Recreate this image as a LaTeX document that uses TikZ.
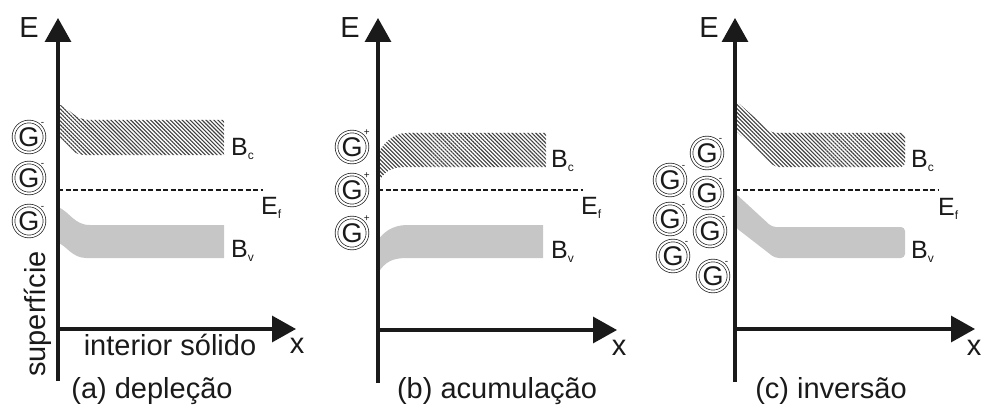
\documentclass[tikz,border=0pt]{standalone}
\usepackage{fontspec}
\setmainfont{Liberation Sans}
\usetikzlibrary{arrows.meta,patterns.meta}
\definecolor{ink}{HTML}{1A1A1A}
\definecolor{bandgray}{HTML}{C6C6C6}
\definecolor{hatchcol}{HTML}{404040}
\begin{document}
\begin{tikzpicture}[x=1pt,y=-1pt,
  axis/.style={line width=3.2pt, draw=ink, -{Triangle[length=24pt,width=26pt]}},
  efline/.style={line width=1.8pt, draw=ink, dash pattern=on 5pt off 2.5pt},
  hatchfill/.style={pattern={Lines[angle=-45,distance=2.8pt,line width=1.1pt]}, pattern color=hatchcol},
  grayfill/.style={fill=bandgray},
  big/.style={font=\fontsize{29}{31}\selectfont, text=ink, inner sep=0pt},
  lbl/.style={font=\fontsize{25}{27}\selectfont, text=ink, inner sep=0pt, anchor=base west},
  gnode/.style={circle, draw=ink, line width=0.7pt, double=white, double distance=2pt,
    minimum size=31pt, inner sep=0pt, font=\fontsize{27}{27}\selectfont, text=ink},
  signlbl/.style={font=\fontsize{10}{10}\selectfont, text=ink, inner sep=0pt, label distance=0.5pt}]
\newcommand{\subc}[1]{\raisebox{-4pt}{\fontsize{12}{12}\selectfont #1}}
\useasboundingbox (0,0) rectangle (982,409);

% ---------------- panel (a) ----------------
\fill[hatchfill] (58,104) .. controls (70,108) and (74,120) .. (90,120) -- (224,120) -- (224,155)
  -- (84,155) .. controls (70,155) and (66,140) .. (58,138) -- cycle;
\fill[grayfill] (58,207) .. controls (70,212) and (74,225) .. (90,225) -- (224,225) -- (224,258)
  -- (86,258) .. controls (72,258) and (66,245) .. (58,243) -- cycle;
\coordinate (aEf0) at (58,190); \coordinate (aEf1) at (263,190);
\draw[efline] (aEf0) -- (aEf1);
\coordinate (aBot) at (58,381); \coordinate (aTop) at (58,18);
\coordinate (aO) at (58,329); \coordinate (aX) at (296,329);
\draw[axis] (aBot) -- (aTop);
\draw[axis] (aO) -- (aX);
\node[big, anchor=base] (aE) at (29,38) {E};
\node[big, anchor=base] (ax) at (297,353) {x};
\node[lbl] (aBc) at (231,155) {B\subc{c}};
\node[lbl] (aEf) at (261,214) {E\subc{f}};
\node[lbl] (aBv) at (231,257) {B\subc{v}};
\node[gnode, label={[signlbl]45:-}] (ga1) at (29,137) {G};
\node[gnode, label={[signlbl]45:-}] (ga2) at (29,178) {G};
\node[gnode, label={[signlbl]45:-}] (ga3) at (29,221) {G};
\node[big, rotate=90] (asup) at (37.5,314) {superfície};
\node[big, anchor=base] (aint) at (170,355) {interior sólido};
\node[big, anchor=base] (acap) at (152,398) {(a) depleção};

% ---------------- panel (b) ----------------
\fill[hatchfill] (378,183) .. controls (385,170) and (392,167) .. (407,167) -- (546,167) -- (546,133)
  -- (407,133) .. controls (392,133) and (383,145) .. (378,153) -- cycle;
\fill[grayfill] (378,273) .. controls (385,262) and (392,258) .. (407,258) -- (543,258) -- (543,225)
  -- (407,225) .. controls (392,225) and (383,233) .. (378,240) -- cycle;
\coordinate (bEf0) at (378,190); \coordinate (bEf1) at (583,190);
\draw[efline] (bEf0) -- (bEf1);
\coordinate (bBot) at (378,383); \coordinate (bTop) at (378,18);
\coordinate (bO) at (378,330); \coordinate (bX) at (617,330);
\draw[axis] (bBot) -- (bTop);
\draw[axis] (bO) -- (bX);
\node[big, anchor=base] (bE) at (350,38) {E};
\node[big, anchor=base] (bx) at (619,355) {x};
\node[lbl] (bBc) at (551,167) {B\subc{c}};
\node[lbl] (bEf) at (581,214) {E\subc{f}};
\node[lbl] (bBv) at (551,258) {B\subc{v}};
\node[gnode, label={[signlbl]45:+}] (gb1) at (352,147) {G};
\node[gnode, label={[signlbl]45:+}] (gb2) at (352,190) {G};
\node[gnode, label={[signlbl]45:+}] (gb3) at (352,233) {G};
\node[big, anchor=base] (bcap) at (497,398) {(b) acumulação};

% ---------------- panel (c) ----------------
\fill[hatchfill, rounded corners=4pt] (735,100) -- (772,133) -- (905,133) -- (905,167)
  -- (775,167) -- (735,130) -- cycle;
\fill[grayfill, rounded corners=4pt] (735,193) -- (772,227) -- (905,227) -- (905,258)
  -- (775,258) -- (735,227) -- cycle;
\coordinate (cEf0) at (735,190); \coordinate (cEf1) at (938,190);
\draw[efline] (cEf0) -- (cEf1);
\coordinate (cBot) at (735,382); \coordinate (cTop) at (735,18);
\coordinate (cO) at (735,329); \coordinate (cX) at (975,329);
\draw[axis] (cBot) -- (cTop);
\draw[axis] (cO) -- (cX);
\node[big, anchor=base] (cE) at (709,38) {E};
\node[big, anchor=base] (cx) at (974,355) {x};
\node[lbl] (cBc) at (911,167) {B\subc{c}};
\node[lbl] (cEf) at (938,215) {E\subc{f}};
\node[lbl] (cBv) at (911,258) {B\subc{v}};
\node[gnode, label={[signlbl]45:-}] (gc1) at (707,153) {G};
\node[gnode, label={[signlbl]45:-}] (gc2) at (670,180) {G};
\node[gnode, label={[signlbl]45:-}] (gc3) at (707,193) {G};
\node[gnode, label={[signlbl]45:-}] (gc4) at (670,219) {G};
\node[gnode, label={[signlbl]45:-}] (gc5) at (710,231) {G};
\node[gnode, label={[signlbl]45:-}] (gc6) at (673,256) {G};
\node[gnode, label={[signlbl]45:-}] (gc7) at (713,276) {G};
\node[big, anchor=base] (ccap) at (831,398) {(c) inversão};
\end{tikzpicture}
\end{document}
